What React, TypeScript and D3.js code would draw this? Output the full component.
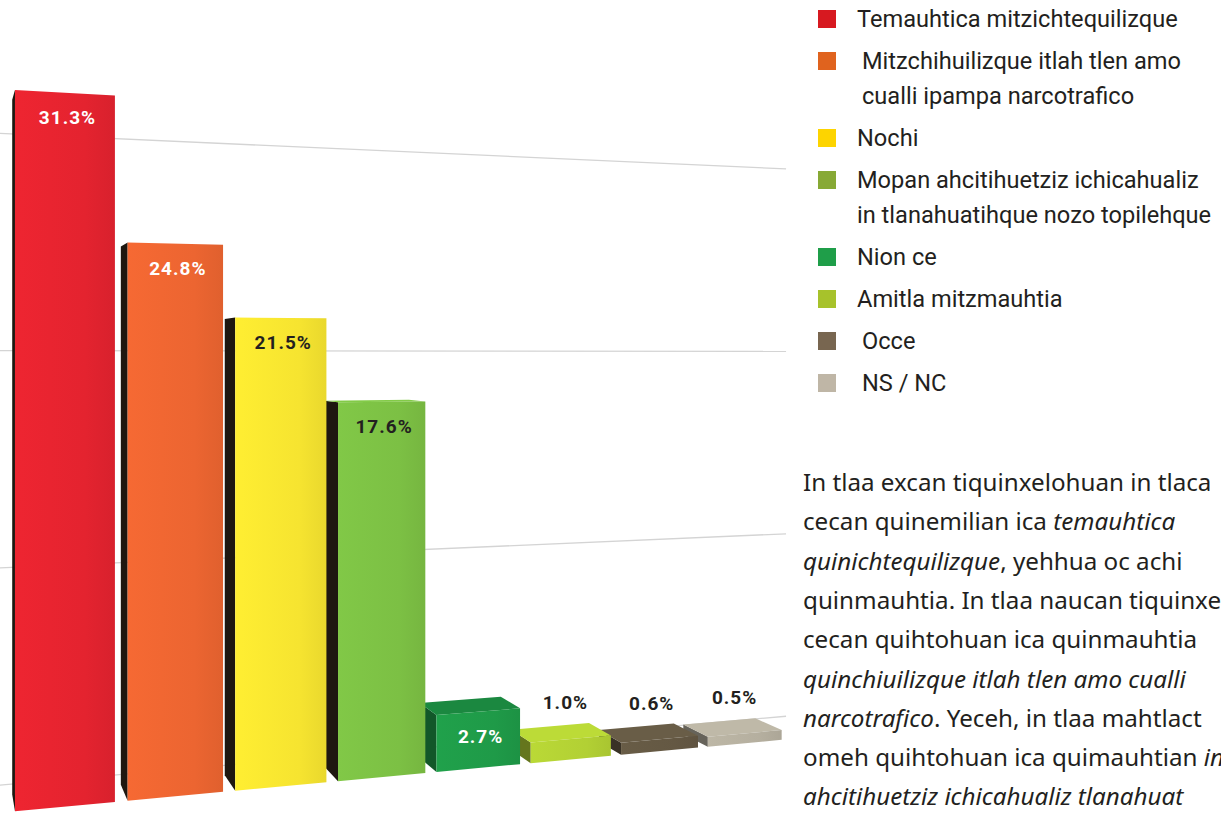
import React from 'react';
import * as d3 from 'd3';

// categories (legend order = bar order)
const categories = [
  'Temauhtica mitzichtequilizque',
  'Mitzchihuilizque itlah tlen amo cualli ipampa narcotrafico',
  'Nochi',
  'Mopan ahcitihuetziz ichicahualiz in tlanahuatihque nozo topilehque',
  'Nion ce',
  'Amitla mitzmauhtia',
  'Occe',
  'NS / NC',
];
const values = [31.3, 24.8, 21.5, 17.6, 2.7, 1.0, 0.6, 0.5];
const gridValues = [0, 10, 20, 30];

const legendLines = [
  ['Temauhtica mitzichtequilizque'],
  ['Mitzchihuilizque itlah tlen amo', 'cualli ipampa narcotrafico'],
  ['Nochi'],
  ['Mopan ahcitihuetziz ichicahualiz', 'in tlanahuatihque nozo topilehque'],
  ['Nion ce'],
  ['Amitla mitzmauhtia'],
  ['Occe'],
  ['NS / NC'],
];
const legendColors = ['#d71920', '#e0631e', '#fdd400', '#87a935', '#1f9e49', '#a7c22b', '#786650', '#bfb6a6'];
const legendIndent = [0, 5, 0, 0, 0, 0, 5, 5];
const barColors = ['#e4232f', '#ec6531', '#f6e430', '#7cc044', '#1f9a48', '#b2d034', '#645843', '#b5af9f'];
const labelDark = [false, false, true, true, false, true, true, true];

// paragraph lines as visible in the picture: [text, italic] segments
const paragraph: [string, boolean][][] = [
  [['In tlaa excan tiquinxelohuan in tlaca', false]],
  [['cecan quinemilian ica ', false], ['temauhtica', true]],
  [['quinichtequilizque', true], [', yehhua oc achi', false]],
  [['quinmauhtia. In tlaa naucan tiquinxe', false]],
  [['cecan quihtohuan ica quinmauhtia', false]],
  [['quinchiuilizque itlah tlen amo cualli', true]],
  [['narcotrafico', true], ['. Yeceh, in tlaa mahtlact', false]],
  [['omeh quihtohuan ica quimauhtian ', false], ['in', true]],
  [['ahcitihuetziz ichicahualiz tlanahuat', true]],
];

// simple perspective camera
const F = 1000;
const CX = 150;
const CY = 355;
const EYE = 19.8;
const ANG = Math.atan(0.21);
const DX = [Math.cos(ANG), Math.sin(ANG)];
const NX = [-Math.sin(ANG), Math.cos(ANG)];
const ORIGIN = [-5.86, 43.4];
const DEPTH = 1.7;
const WALL = 2.8;

function project(t: number, depth: number, h: number): [number, number] {
  const X = ORIGIN[0] + t * DX[0] + depth * NX[0];
  const Z = ORIGIN[1] + t * DX[1] + depth * NX[1];
  return [CX + (F * X) / Z, CY - (F * (h - EYE)) / Z];
}

export default function App() {
  const x = d3.scaleBand<string>().domain(categories).range([0, 39.2]).paddingInner(0.115).paddingOuter(0);
  const y = d3.scaleLinear().domain([0, 40]).range([0, 40]);
  const line = d3.line();
  const poly = (pts: [number, number][]) => line(pts) + 'Z';

  const bars = categories.map((c, i) => {
    const t0 = x(c) as number;
    const t1 = t0 + x.bandwidth();
    const h = y(values[i]);
    const col = d3.color(barColors[i]) as d3.RGBColor;
    const front = [project(t0, 0, 0), project(t1, 0, 0), project(t1, 0, h), project(t0, 0, h)];
    const side = [project(t0, 0, 0), project(t0, DEPTH, 0), project(t0, DEPTH, h), project(t0, 0, h)];
    const top = [project(t0, 0, h), project(t1, 0, h), project(t1, DEPTH, h), project(t0, DEPTH, h)];
    return { c, i, t0, t1, h, col, front, side, top };
  });

  return (
    <svg width={1221} height={814} style={{ position: 'absolute', left: 0, top: 0, display: 'block' }}>
      <defs>
        {bars.map(b => (
          <linearGradient key={b.i} id={'fg' + b.i} x1="0" y1="0" x2="1" y2="0">
            <stop offset="0" stopColor={b.col.brighter(0.12).toString()} />
            <stop offset="0.7" stopColor={b.col.toString()} />
            <stop offset="1" stopColor={b.col.darker(0.15).toString()} />
          </linearGradient>
        ))}
      </defs>
      <rect width={1221} height={814} fill="#fff" />

      {gridValues.map(g => (
        <path key={g} d={line([project(-3, WALL, y(g)), project(42.2, WALL, y(g))]) as string}
          stroke="#d4d4d4" strokeWidth={1.3} fill="none" />
      ))}

      {bars.slice().reverse().map(b => (
        <g key={b.c}>
          <path d={poly(b.side)} fill={b.h > 5 ? '#1e1710' : b.col.darker(1.6).toString()} />
          {b.h < EYE && <path d={poly(b.top)} fill={b.i === 4 ? b.col.darker(0.35).toString() : b.col.brighter(0.15).toString()} />}
          <path d={poly(b.front)} fill={`url(#fg${b.i})`} />
        </g>
      ))}

      {bars.map(b => {
        const inside = b.h > 2;
        const mid = (b.t0 + b.t1) / 2;
        const p = inside ? project(mid, 0, b.h) : project(mid, DEPTH, b.h);
        return (
          <text key={b.c} x={p[0] + (inside ? 2 : 15)} y={inside ? p[1] + 31 : p[1] - 17}
            textAnchor="middle" fontFamily="Roboto, sans-serif" fontWeight={700} fontSize={19}
            letterSpacing={1} fill={labelDark[b.i] ? '#231f20' : '#ffffff'}>
            {values[b.i].toFixed(1)}%
          </text>
        );
      })}

      {(() => {
        let cy = 19;
        return legendLines.map((ls, i) => {
          const yy = cy;
          cy += 42 + (ls.length - 1) * 35;
          return (
            <g key={i}>
              <rect x={818} y={yy - 9} width={18} height={18} fill={legendColors[i]} />
              {ls.map((l, j) => (
                <text key={j} x={857 + legendIndent[i]} y={yy + 8 + j * 35} fontFamily="Roboto, sans-serif" fontSize={23.6} fill="#231f20">{l}</text>
              ))}
            </g>
          );
        });
      })()}

      {paragraph.map((segs, i) => (
        <text key={i} x={803} y={491 + i * 39.3} fontFamily="'Noto Sans', sans-serif" fontSize={24.2} fill="#231f20">
          {segs.map(([s, it], j) => (
            <tspan key={j} fontStyle={it ? 'italic' : 'normal'}>{s}</tspan>
          ))}
        </text>
      ))}
    </svg>
  );
}
